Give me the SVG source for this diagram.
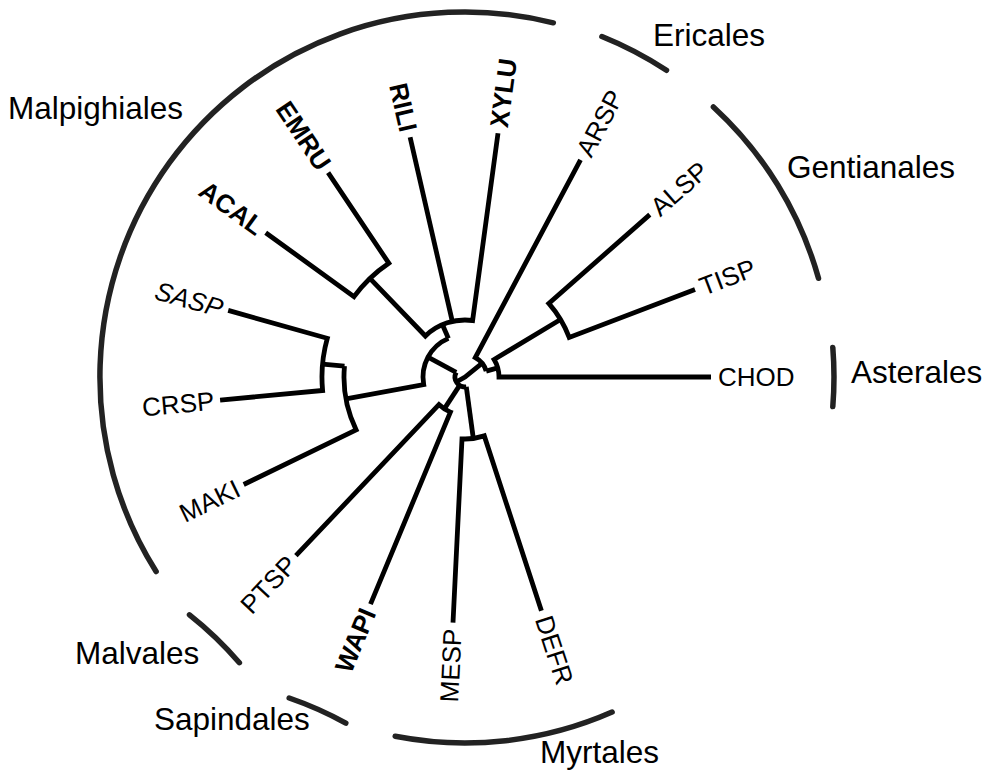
<svg xmlns="http://www.w3.org/2000/svg" width="985" height="772" viewBox="0 0 985 772">
  <style>
    .br { fill: none; stroke: #000; stroke-width: 4.8; stroke-linejoin: miter; stroke-linecap: butt; }
    .clade { fill: none; stroke: #222; stroke-width: 5.5; stroke-linecap: round; }
    .leaf { font-family: "Liberation Sans", Arial, sans-serif; font-size: 26px; fill: #000; dominant-baseline: central; }
    .bold { font-weight: bold; }
    .ital { font-style: italic; }
    .grp { font-family: "Liberation Sans", Arial, sans-serif; font-size: 31.5px; fill: #000; }
  </style>
  <rect width="985" height="772" fill="#fff"/>

  <!-- branches of the circular tree, centre at (465,377) -->
  <g id="connectors">
    <!-- Asterales / Gentianales / Ericales side -->
    <path class="br" d="M649.8,214.6 L548.8,303.4 A111.5,111.5 0 0 1 569.2,337.4 L695.0,289.6"/>
    <path class="br" d="M560.5,319.5 L494.1,359.5 A34,34 0 0 1 499,377 L711,377"/>
    <path class="br" d="M497.8,367.9 L486.2,371.1"/>
    <path class="br" d="M580.5,159.8 L475.3,357.6 A22,22 0 0 1 486.2,371.1"/>
    <path class="br" d="M482.2,363.2 L465,377 L456.3,382.0"/>
    <!-- Malpighiales -->
    <path class="br" d="M265.7,232.7 L354.0,296.7 A137,137 0 0 1 388.8,263.2 L328.1,172.6"/>
    <path class="br" d="M369.9,278.4 L425.4,336.0 A57,57 0 0 1 472.6,320.5 L498.0,133.2"/>
    <path class="br" d="M410.1,137.2 L452.3,321.4"/>
    <path class="br" d="M442.5,324.7 L448.4,338.4"/>
    <path class="br" d="M228.2,310.4 L327.3,338.3 A143,143 0 0 0 322.6,390.5 L220.1,400.1"/>
    <path class="br" d="M322.6,364.2 L344.5,366.1"/>
    <path class="br" d="M243.7,484.5 L356.1,429.9 A121,121 0 0 1 344.5,366.1"/>
    <path class="br" d="M346.0,398.8 L423.7,384.6 A42,42 0 0 1 448.4,338.4"/>
    <path class="br" d="M428.0,357.2 L456.2,372.3"/>
    <!-- Sapindales / Myrtales -->
    <path class="br" d="M370.5,604.1 L450.4,412.1 A38,38 0 0 1 438.9,404.6 L295.9,555.7"/>
    <path class="br" d="M444.3,408.9 L459.6,385.4"/>
    <path class="br" d="M541.4,610.8 L484.3,435.9 A62,62 0 0 1 462.0,438.9 L453.0,622.7"/>
    <path class="br" d="M473.3,438.4 L466.3,386.9"/>
    <!-- root arc -->
    <path class="br" d="M466.3,386.9 A10,10 0 0 1 456.2,372.3"/>
  </g>

  <!-- leaf labels -->
  <g id="CHOD"><text class="leaf" transform="translate(718,377)">CHOD</text></g>
  <g id="TISP"><text class="leaf" transform="translate(700.6,287.5) rotate(-20.8)">TISP</text></g>
  <g id="ALSP"><text class="leaf" transform="translate(654.3,210.7) rotate(-41.3)">ALSP</text></g>
  <g id="ARSP"><text class="leaf" transform="translate(583.3,154.5) rotate(-62)">ARSP</text></g>
  <g id="XYLU"><text class="leaf bold" transform="translate(498.8,127.3) rotate(-82.3)">XYLU</text></g>
  <g id="RILI"><text class="leaf bold" text-anchor="end" transform="translate(408.7,131.4) rotate(77.1)">RILI</text></g>
  <g id="EMRU"><text class="leaf bold" text-anchor="end" transform="translate(324.8,167.6) rotate(56.2)">EMRU</text></g>
  <g id="ACAL"><text class="leaf bold" text-anchor="end" transform="translate(260.9,229.2) rotate(35.9)">ACAL</text></g>
  <g id="SASP"><text class="leaf ital" text-anchor="end" transform="translate(222.4,308.8) rotate(15.7)">SASP</text></g>
  <g id="CRSP"><text class="leaf" text-anchor="end" transform="translate(214.1,400.7) rotate(-5.4)">CRSP</text></g>
  <g id="MAKI"><text class="leaf" text-anchor="end" transform="translate(238.3,487.1) rotate(-25.9)">MAKI</text></g>
  <g id="PTSP"><text class="leaf" text-anchor="end" transform="translate(291.8,560.0) rotate(-46.6)">PTSP</text></g>
  <g id="WAPI"><text class="leaf bold" text-anchor="end" transform="translate(368.2,609.6) rotate(-67.4)">WAPI</text></g>
  <g id="MESP"><text class="leaf" text-anchor="end" transform="translate(452.7,628.7) rotate(-87.2)">MESP</text></g>
  <g id="DEFR"><text class="leaf" transform="translate(543.3,616.5) rotate(71.9)">DEFR</text></g>

  <!-- order brackets -->
  <g id="Malpighiales">
    <path class="clade" d="M156.1,571.5 A365,365 0 0 1 553.3,22.8"/>
    <text class="grp" x="8" y="119">Malpighiales</text>
  </g>
  <g id="Ericales">
    <path class="clade" d="M601.9,36.5 A367,367 0 0 1 666.5,70.3"/>
    <text class="grp" x="653" y="46">Ericales</text>
  </g>
  <g id="Gentianales">
    <path class="clade" d="M713.4,106.9 A367,367 0 0 1 818.5,278.3"/>
    <text class="grp" x="787" y="178">Gentianales</text>
  </g>
  <g id="Asterales">
    <path class="clade" d="M832.8,347.4 A369,369 0 0 1 832.8,406.6"/>
    <text class="grp" x="851" y="383">Asterales</text>
  </g>
  <g id="Malvales">
    <path class="clade" d="M239.4,662.7 A364,364 0 0 0 189.5,614.8"/>
    <text class="grp" x="75" y="664">Malvales</text>
  </g>
  <g id="Sapindales">
    <path class="clade" d="M345.8,723.1 A366,366 0 0 0 289.2,698.0"/>
    <text class="grp" x="154" y="730">Sapindales</text>
  </g>
  <g id="Myrtales">
    <path class="clade" d="M612.1,712.1 A366,366 0 0 1 395.2,736.3"/>
    <text class="grp" x="540" y="763">Myrtales</text>
  </g>
</svg>
